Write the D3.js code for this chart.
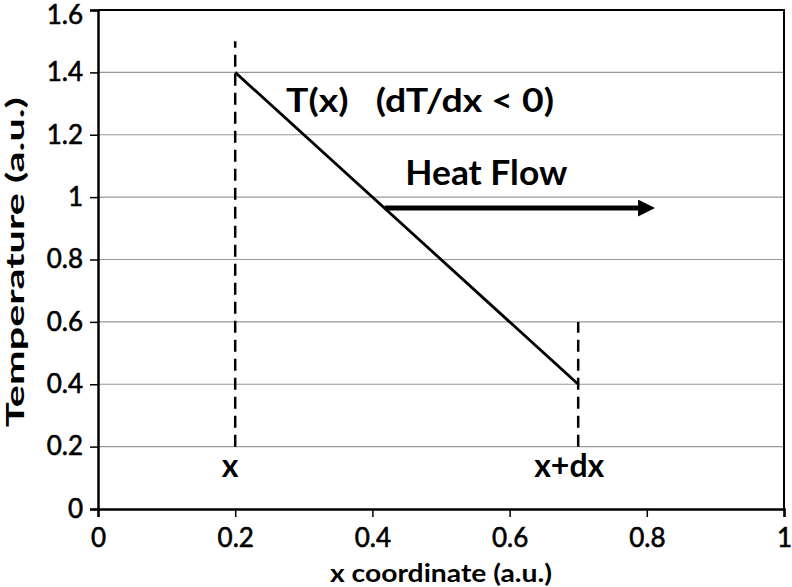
<!DOCTYPE html>
<html>
<head>
<meta charset="utf-8">
<script src="https://cdn.jsdelivr.net/npm/d3@7"></script>
<style>
  body { margin: 0; background: #fff; }
  svg { font-family: Lato, "Open Sans", sans-serif; }
</style>
</head>
<body>
<svg id="svg1" width="792" height="587"></svg>
<script>
'use strict';

// T(x) profile, endpoints
const profileX = [0.2, 0.7];
const profileT = [1.4, 0.4];
// dashed markers at x and x+dx
const markerX = [0.2, 0.7];
const markerLow = [0.2, 0.2];
const markerHigh = [1.5, 0.6];
const markerLabels = ["x", "x+dx"];
// heat flow arrow
const arrowX = [0.418, 0.812];
const arrowT = 0.965;

const xTicks = [0, 0.2, 0.4, 0.6, 0.8, 1];
const yTicks = [0, 0.2, 0.4, 0.6, 0.8, 1, 1.2, 1.4, 1.6];

let svg = d3.select("#svg1");
let margin = {top: 10, right: 8, bottom: 78, left: 98},
    width = 792 - margin.left - margin.right,
    height = 587 - margin.top - margin.bottom,
    x = d3.scaleLinear().domain([0, 1]).range([0, width]),
    y = d3.scaleLinear().domain([0, 1.6]).range([height, 0]),
    g = svg.append("g").attr("transform", `translate(${margin.left},${margin.top})`);

// gridlines
g.append("g")
  .selectAll("line")
  .data(yTicks.filter(d => d > 0 && d < 1.6))
  .enter().append("line")
  .attr("x1", 0).attr("x2", width)
  .attr("y1", d => y(d)).attr("y2", d => y(d))
  .style("stroke", "#999")
  .style("stroke-width", 1.2);

// plot frame (top and right)
g.append("path")
  .attr("d", `M0,${y(1.6)}H${x(1)}V${y(0)}`)
  .style("fill", "none")
  .style("stroke", "black")
  .style("stroke-width", 2);

// axes
let xAxis = g.append("g")
  .attr("transform", `translate(0,${height})`)
  .call(d3.axisBottom(x).tickValues(xTicks).tickSize(8).tickPadding(12).tickFormat(d3.format("")));
let yAxis = g.append("g")
  .call(d3.axisLeft(y).tickValues(yTicks).tickSize(8).tickPadding(7).tickFormat(d3.format("")));
[xAxis, yAxis].forEach(a => {
  a.select(".domain").style("stroke", "black").style("stroke-width", 2.5);
  a.selectAll(".tick line").style("stroke", "black").style("stroke-width", 1.5);
  a.selectAll(".tick text")
    .style("font-family", "Lato, sans-serif")
    .style("font-size", "26px")
    .style("fill", "black")
    .style("stroke", "black")
    .style("stroke-width", 0.6);
});
// top label sits a little lower so it stays inside the page
yAxis.selectAll(".tick text").filter(d => d === 1.6).attr("dy", "0.5em");

// dashed markers
g.selectAll(".marker")
  .data(markerX)
  .enter().append("line")
  .attr("class", "marker")
  .attr("x1", d => x(d)).attr("x2", d => x(d))
  .attr("y1", (d, i) => y(markerLow[i]))
  .attr("y2", (d, i) => y(markerHigh[i]))
  .style("stroke", "black")
  .style("stroke-width", 2.5)
  .style("stroke-dasharray", "12,7");

g.selectAll(".markerLabel")
  .data(markerX)
  .enter().append("text")
  .attr("x", (d, i) => x(d) + (i === 0 ? -5 : -9))
  .attr("y", y(0.103))
  .style("text-anchor", "middle")
  .style("font-size", "32px")
  .style("font-weight", "bold")
  .text((d, i) => markerLabels[i]);

// temperature profile
g.append("path")
  .datum(profileX.map((d, i) => [d, profileT[i]]))
  .attr("d", d3.line().x(d => x(d[0])).y(d => y(d[1])))
  .style("fill", "none")
  .style("stroke", "black")
  .style("stroke-width", 2.8);

g.append("text")
  .attr("x", x(0.274))
  .attr("y", y(1.272))
  .attr("textLength", 268)
  .attr("lengthAdjust", "spacingAndGlyphs")
  .attr("xml:space", "preserve")
  .style("font-size", "33px")
  .style("font-weight", "bold")
  .style("white-space", "pre")
  .text("T(x)   (dT/dx < 0)");

// heat flow arrow
svg.append("defs").append("marker")
  .attr("id", "head")
  .attr("viewBox", "0 0 10 10")
  .attr("refX", 0).attr("refY", 5)
  .attr("markerWidth", 3.4).attr("markerHeight", 3.4)
  .attr("markerUnits", "strokeWidth")
  .attr("orient", "auto")
  .append("path")
  .attr("d", "M0,0L10,5L0,10Z")
  .style("fill", "black");

g.append("line")
  .attr("x1", x(arrowX[0])).attr("x2", x(arrowX[1]) - 17)
  .attr("y1", y(arrowT)).attr("y2", y(arrowT))
  .style("stroke", "black")
  .style("stroke-width", 5)
  .attr("marker-end", "url(#head)");

g.append("text")
  .attr("x", x(0.448))
  .attr("y", y(1.038))
  .attr("textLength", 162)
  .attr("lengthAdjust", "spacingAndGlyphs")
  .style("font-size", "34px")
  .style("font-weight", "bold")
  .text("Heat Flow");

// axis titles
svg.append("text")
  .attr("x", 441)
  .attr("y", 582)
  .attr("textLength", 222)
  .attr("lengthAdjust", "spacingAndGlyphs")
  .style("text-anchor", "middle")
  .style("font-size", "24px")
  .style("font-weight", "bold")
  .text("x coordinate (a.u.)");

svg.append("text")
  .attr("transform", "translate(24,262) rotate(-90)")
  .attr("textLength", 330)
  .attr("lengthAdjust", "spacingAndGlyphs")
  .style("text-anchor", "middle")
  .style("font-size", "25px")
  .style("font-weight", "bold")
  .text("Temperature (a.u.)");
</script>
</body>
</html>
